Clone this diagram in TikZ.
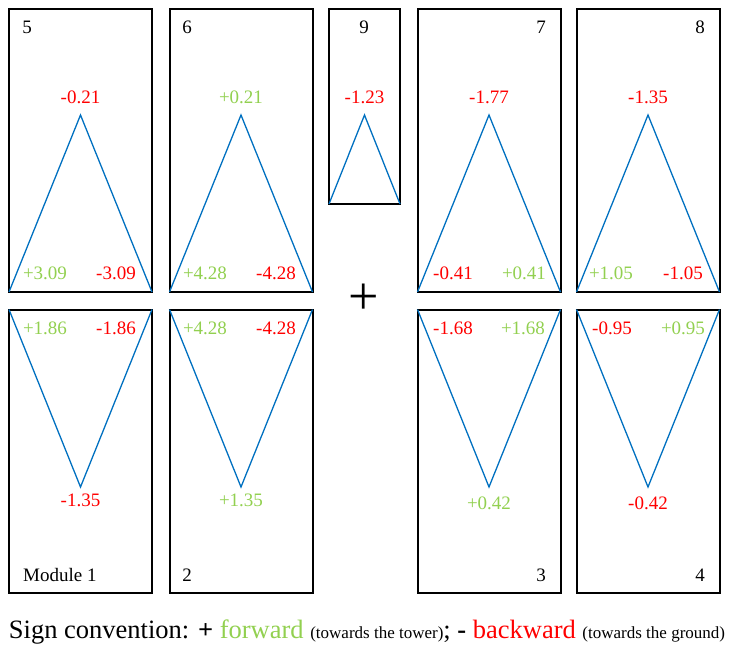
\documentclass[tikz,border=0pt]{standalone}
\usepackage{fontspec}
\setmainfont{Liberation Serif}
\usepackage{tikz}
\usetikzlibrary{positioning, calc}
\definecolor{fwdgreen}{RGB}{146, 208, 80}
\definecolor{bwdred}{RGB}{255, 0, 0}
\definecolor{triblue}{RGB}{0, 112, 192}
\tikzset{
  modbox/.style={
    rectangle, draw=black, line width=2pt, outer sep=0pt, inner sep=0pt,
    minimum width=143pt, minimum height=283pt},
  smallbox/.style={
    rectangle, draw=black, line width=2pt, outer sep=0pt, inner sep=0pt,
    minimum width=71pt, minimum height=195pt},
  tri/.style={line width=1.3pt, color=triblue, line join=miter},
  fwd/.style={font=\fontsize{19}{21}\selectfont, text=fwdgreen, inner sep=0pt},
  bwd/.style={font=\fontsize{19}{21}\selectfont, text=bwdred, inner sep=0pt},
  idx/.style={font=\fontsize{19}{21}\selectfont, text=black, inner sep=0pt}
}
\begin{document}
\begin{tikzpicture}[x=1pt, y=-1pt]
\useasboundingbox (0,0) rectangle (734,646);

% ── Upper row ─────────────────────────────────────────────
\node[modbox]   (m5) at (80.5, 150.5)  {};
\node[modbox]   (m6) at (241, 150.5)   {};
\node[smallbox] (m9) at (364.5, 106.5) {};
\node[modbox]   (m7) at (489, 150.5)   {};
\node[modbox]   (m8) at (648, 150.5)   {};

% ── Lower row ─────────────────────────────────────────────
\node[modbox] (m1) at (80.5, 451) {};
\node[modbox] (m2) at (241, 451)  {};
\node[modbox] (m3) at (489, 451)  {};
\node[modbox] (m4) at (648, 451)  {};

% ── Apexes ────────────────────────────────────────────────
\coordinate (a5) at (80.5, 115);
\coordinate (a6) at (241, 115);
\coordinate (a9) at (364.5, 115);
\coordinate (a7) at (489, 115);
\coordinate (a8) at (648, 115);
\coordinate (a1) at (80.5, 487);
\coordinate (a2) at (241, 487);
\coordinate (a3) at (489, 487);
\coordinate (a4) at (648, 487);

% ── Triangles ─────────────────────────────────────────────
\draw[tri] (m5.south west) -- (a5) -- (m5.south east);
\draw[tri] (m6.south west) -- (a6) -- (m6.south east);
\draw[tri] (m9.south west) -- (a9) -- (m9.south east);
\draw[tri] (m7.south west) -- (a7) -- (m7.south east);
\draw[tri] (m8.south west) -- (a8) -- (m8.south east);
\draw[tri] (m1.north west) -- (a1) -- (m1.north east);
\draw[tri] (m2.north west) -- (a2) -- (m2.north east);
\draw[tri] (m3.north west) -- (a3) -- (m3.north east);
\draw[tri] (m4.north west) -- (a4) -- (m4.north east);

% ── Module numbers ────────────────────────────────────────
\node[idx] (n5) at (27, 27)   {5};
\node[idx] (n6) at (187, 27)  {6};
\node[idx] (n9) at (364, 27)  {9};
\node[idx] (n7) at (541, 27)  {7};
\node[idx] (n8) at (700, 27)  {8};
\node[idx, anchor=west] (n1) at (23, 575) {Module 1};
\node[idx] (n2) at (187, 575) {2};
\node[idx] (n3) at (541, 575) {3};
\node[idx] (n4) at (700, 575) {4};

% ── Apex values ───────────────────────────────────────────
\node[bwd] (v5) at (80.5, 97)  {-0.21};
\node[fwd] (v6) at (241, 97)   {+0.21};
\node[bwd] (v9) at (364.5, 97) {-1.23};
\node[bwd] (v7) at (489, 97)   {-1.77};
\node[bwd] (v8) at (648, 97)   {-1.35};
\node[bwd] (v1) at (80.5, 500) {-1.35};
\node[fwd] (v2) at (241, 500)  {+1.35};
\node[fwd] (v3) at (489, 503)  {+0.42};
\node[bwd] (v4) at (648, 503)  {-0.42};

% ── Base values, upper row ────────────────────────────────
\node[fwd] (l5) at (45, 273)  {+3.09};
\node[bwd] (r5) at (116, 273) {-3.09};
\node[fwd] (l6) at (205, 273) {+4.28};
\node[bwd] (r6) at (276, 273) {-4.28};
\node[bwd] (l7) at (453, 273) {-0.41};
\node[fwd] (r7) at (524, 273) {+0.41};
\node[fwd] (l8) at (611, 273) {+1.05};
\node[bwd] (r8) at (683, 273) {-1.05};

% ── Base values, lower row ────────────────────────────────
\node[fwd] (l1) at (45, 328)  {+1.86};
\node[bwd] (r1) at (116, 328) {-1.86};
\node[fwd] (l2) at (205, 328) {+4.28};
\node[bwd] (r2) at (276, 328) {-4.28};
\node[bwd] (l3) at (453, 328) {-1.68};
\node[fwd] (r3) at (523, 328) {+1.68};
\node[bwd] (l4) at (612, 328) {-0.95};
\node[fwd] (r4) at (683, 328) {+0.95};

% ── Sum sign and convention ───────────────────────────────
\node[inner sep=0pt, font=\fontsize{54}{54}\selectfont] (plus) at (364, 299) {+};
\node[inner sep=0pt, font=\fontsize{26.5}{29}\selectfont] (conv) at (367, 632)
  {Sign convention: \textbf{+} \textcolor{fwdgreen}{forward} {\fontsize{17}{19}\selectfont (towards the tower)}; \textbf{-} \textcolor{bwdred}{backward} {\fontsize{17}{19}\selectfont (towards the ground)}};

\end{tikzpicture}
\end{document}
